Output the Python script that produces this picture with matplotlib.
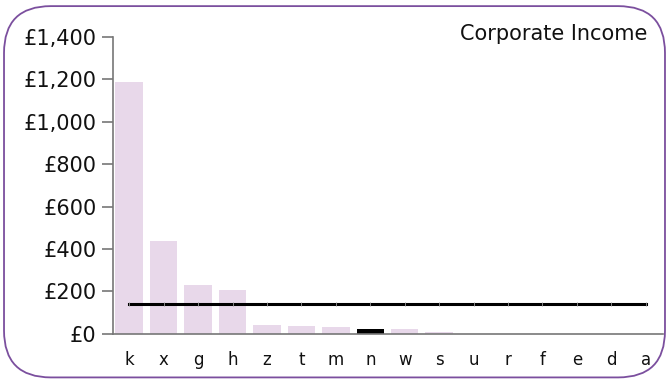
import matplotlib.pyplot as plt
from matplotlib.patches import FancyBboxPatch
from matplotlib.ticker import FuncFormatter

categories = ['k', 'x', 'g', 'h', 'z', 't', 'm', 'n', 'w', 's', 'u', 'r', 'f', 'e', 'd', 'a']
income = [1190, 438, 230, 207, 41, 37, 33, 23, 22, 9, 0, 0, 0, 0, 0, 0]
highlight = 'n'
average = 140

fig = plt.figure(figsize=(6.69, 3.82), dpi=100)
ax = fig.add_axes([0.169, 0.126, 0.822, 0.777])

# rounded frame round the whole chart
frame = FancyBboxPatch((0.006, 0.012), 0.988, 0.972, transform=fig.transFigure,
                       boxstyle='round,pad=0,rounding_size=0.07',
                       facecolor='none', edgecolor='#7b4f9e', linewidth=1.3,
                       mutation_aspect=669 / 382)
fig.patches.append(frame)

colors = ['black' if c == highlight else '#e8d8ea' for c in categories]
xs = range(len(categories))
ax.bar(xs, income, width=0.8, color=colors, zorder=2)
ax.plot(xs, [average] * len(categories), color='black', linewidth=2.2, zorder=3,
        marker='|', markersize=2.5, markeredgecolor='#999999', markeredgewidth=0.6)

ax.set_xlim(-0.47, 15.5)
ax.set_ylim(0, 1400)
ax.set_yticks(range(0, 1401, 200))
ax.yaxis.set_major_formatter(FuncFormatter(lambda v, p: f'£{int(v):,}'))
ax.set_xticks(list(xs))
ax.set_xticklabels(categories)

for s in ['top', 'right']:
    ax.spines[s].set_visible(False)
for s in ['left', 'bottom']:
    ax.spines[s].set_color('#777777')
    ax.spines[s].set_linewidth(1.2)

ax.tick_params(axis='y', direction='out', length=8, width=1.2, color='#777777',
               labelsize=15, pad=4, labelcolor='#111111')
ax.tick_params(axis='x', length=0, labelsize=12, pad=12, labelcolor='#111111')

fig.text(0.967, 0.91, 'Corporate Income', ha='right', va='center', fontsize=15,
         color='#111111')

fig.savefig('out.png', dpi=100)
